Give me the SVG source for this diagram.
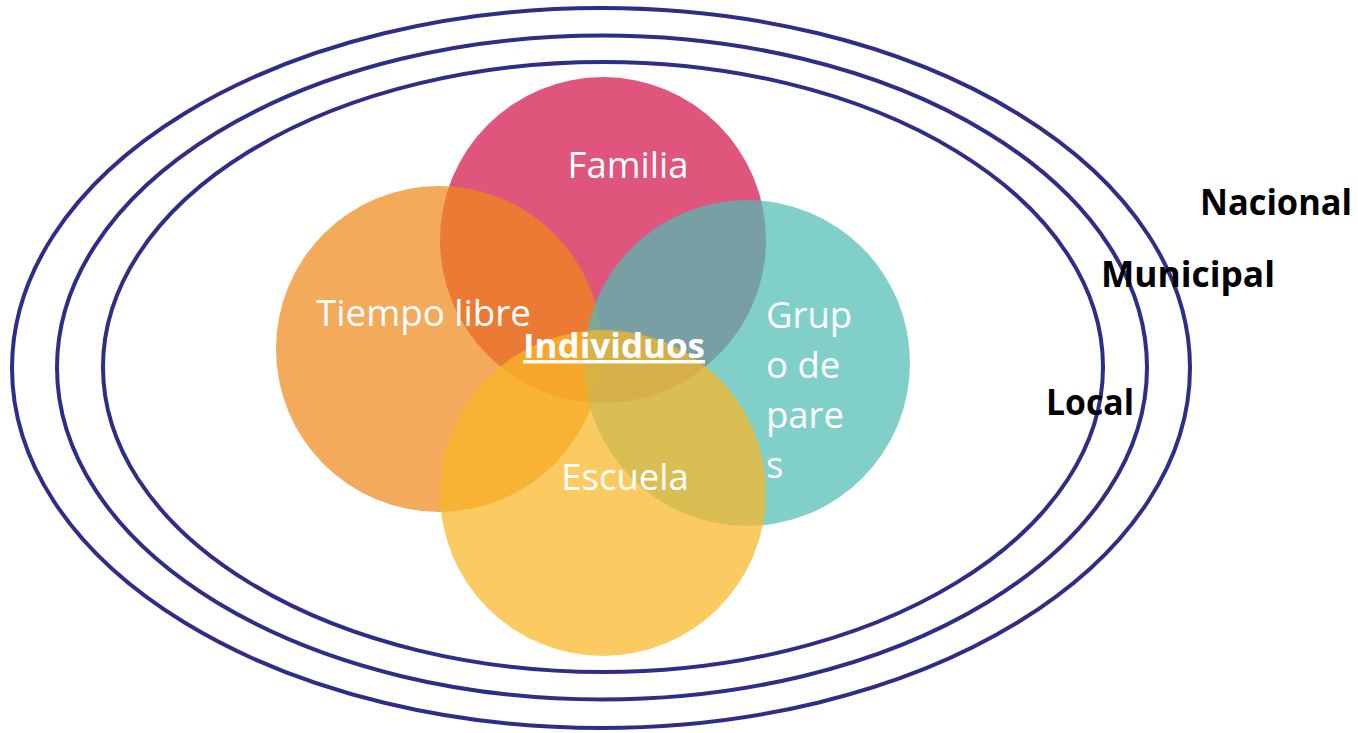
<svg xmlns="http://www.w3.org/2000/svg" width="1358" height="733" viewBox="0 0 1358 733">
<style>
.ring{fill:none;stroke:#2E2D88;stroke-width:4}
.lbl{font-family:"Open Sans","Liberation Sans",sans-serif;font-size:36.5px;fill:#ffffff}
.lvl{font-family:"Open Sans","Liberation Sans",sans-serif;font-size:35px;font-weight:bold;fill:#000000}
</style>
<rect width="1358" height="733" fill="#ffffff"/>
<g id="rings">
<ellipse id="nacional-ring" class="ring" cx="601" cy="368" rx="589" ry="360"/>
<ellipse id="municipal-ring" class="ring" cx="602" cy="367.5" rx="545" ry="332"/>
<ellipse id="local-ring" class="ring" cx="603" cy="367" rx="500" ry="305"/>
</g>
<g id="familia"><circle cx="603" cy="240" r="163" fill="#D4144A" fill-opacity="0.72"/><text class="lbl" x="628" y="178" text-anchor="middle">Familia</text></g>
<g id="tiempo-libre"><circle cx="439" cy="349" r="163" fill="#EE891A" fill-opacity="0.72"/><text class="lbl" x="316" y="326" textLength="215" lengthAdjust="spacingAndGlyphs">Tiempo libre</text></g>
<g id="grupo-de-pares"><circle cx="747" cy="363" r="163" fill="#4FBCB4" fill-opacity="0.72"/><text class="lbl" x="766"><tspan x="766" y="328">Grup</tspan><tspan x="766" y="378">o de</tspan><tspan x="766" y="428">pare</tspan><tspan x="766" y="478">s</tspan></text></g>
<g id="escuela"><circle cx="603" cy="493" r="163" fill="#F9B725" fill-opacity="0.72"/><text class="lbl" x="625" y="490" text-anchor="middle">Escuela</text></g>
<g id="individuos"><text x="523" y="358" textLength="182" lengthAdjust="spacingAndGlyphs" font-family="'Open Sans','Liberation Sans',sans-serif" font-size="34" font-weight="bold" fill="#ffffff" text-decoration="underline">Individuos</text></g>
<g id="levels">
<text class="lvl" x="1200" y="215" textLength="152" lengthAdjust="spacingAndGlyphs">Nacional</text>
<text class="lvl" x="1101" y="287" textLength="174" lengthAdjust="spacingAndGlyphs">Municipal</text>
<text class="lvl" x="1046" y="415" textLength="88" lengthAdjust="spacingAndGlyphs">Local</text>
</g>
</svg>
